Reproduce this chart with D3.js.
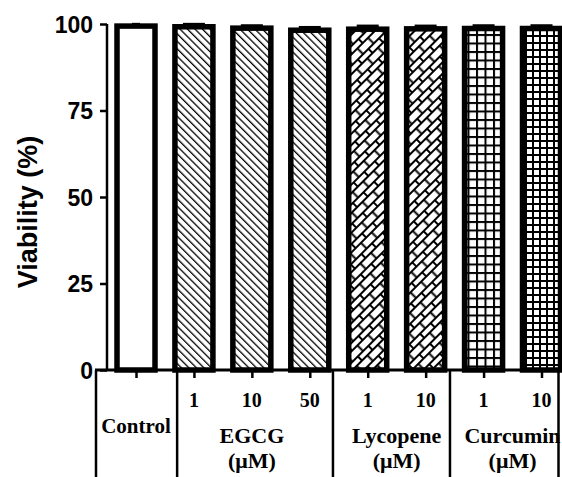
<!DOCTYPE html>
<html><head><meta charset="utf-8">
<script src="https://cdn.jsdelivr.net/npm/d3@7"></script>
<style>html,body{margin:0;padding:0;background:#fff;}svg{display:block;}</style>
</head><body>
<script>
const categories = ["Control","EGCG 1","EGCG 10","EGCG 50","Lycopene 1","Lycopene 10","Curcumin 1","Curcumin 10"];
const doseLabels = ["","1","10","50","1","10","1","10"];
const values = [99.4, 99.2, 98.8, 98.2, 98.5, 98.6, 98.7, 98.7];
const errors = [0.5, 0.7, 0.7, 0.8, 0.9, 0.8, 0.8, 0.8];
const patterns = ["none","diag","diag","diag","brick","brick","grid8","grid6"];
const groupNames = ["Control","EGCG","Lycopene","Curcumin"];
const groupMembers = [[0],[1,2,3],[4,5],[6,7]];
const yTicks = [0,25,50,75,100];

const W = 562, H = 477;
const svg = d3.select("body").append("svg").attr("width", W).attr("height", H);
const defs = svg.append("defs");

// patterns
const pd = defs.append("pattern").attr("id","diag").attr("patternUnits","userSpaceOnUse")
  .attr("width",5.3).attr("height",5.3).attr("patternTransform","rotate(-45)");
pd.append("rect").attr("width",5.3).attr("height",5.3).attr("fill","#fff");
pd.append("line").attr("x1",0).attr("y1",0).attr("x2",0).attr("y2",5.3).attr("stroke","#000").attr("stroke-width",2.6);

const bw = 15, bh = 7;
const pb = defs.append("pattern").attr("id","brick").attr("patternUnits","userSpaceOnUse")
  .attr("width",bw).attr("height",bh*2).attr("patternTransform","rotate(-45)");
pb.append("rect").attr("width",bw).attr("height",bh*2).attr("fill","#fff");
pb.append("line").attr("x1",0).attr("y1",0).attr("x2",bw).attr("y2",0).attr("stroke","#000").attr("stroke-width",4);
pb.append("line").attr("x1",0).attr("y1",bh).attr("x2",bw).attr("y2",bh).attr("stroke","#000").attr("stroke-width",2);
pb.append("line").attr("x1",1).attr("y1",0).attr("x2",1).attr("y2",bh).attr("stroke","#000").attr("stroke-width",2);
pb.append("line").attr("x1",bw/2+1).attr("y1",bh).attr("x2",bw/2+1).attr("y2",bh*2).attr("stroke","#000").attr("stroke-width",2);

function grid(id, s){
  const p = defs.append("pattern").attr("id",id).attr("patternUnits","userSpaceOnUse").attr("width",s).attr("height",s);
  p.append("rect").attr("width",s).attr("height",s).attr("fill","#fff");
  p.append("line").attr("x1",0).attr("y1",1).attr("x2",s).attr("y2",1).attr("stroke","#000").attr("stroke-width",2);
  p.append("line").attr("x1",1).attr("y1",0).attr("x2",1).attr("y2",s).attr("stroke","#000").attr("stroke-width",2);
}
grid("grid8", 8.5); grid("grid6", 7);

const y = d3.scaleLinear().domain([0,100]).range([370,24]);
const x = d3.scalePoint().domain(categories).range([136, 541.5]);
const step = x.step();
const barW = 38;

// Bars
svg.selectAll("rect.bar").data(categories).enter().append("rect")
  .attr("class","bar")
  .attr("x", d => x(d) - barW/2)
  .attr("y", (d,i) => y(values[i]))
  .attr("width", barW)
  .attr("height", (d,i) => y(0) - y(values[i]))
  .attr("fill", (d,i) => patterns[i] === "none" ? "#fff" : `url(#${patterns[i]})`)
  .attr("stroke","#000").attr("stroke-width",5.5);

// Error bars
const eb = svg.selectAll("g.err").data(categories).enter().append("g").attr("class","err");
eb.append("line")
  .attr("x1", d => x(d)).attr("x2", d => x(d))
  .attr("y1", (d,i) => y(values[i])).attr("y2", (d,i) => y(values[i] + errors[i]))
  .attr("stroke","#000").attr("stroke-width",2.5);
eb.append("line")
  .attr("x1", (d,i) => x(d) - (i === 0 ? 4 : 11)).attr("x2", (d,i) => x(d) + (i === 0 ? 4 : 11))
  .attr("y1", (d,i) => y(values[i] + errors[i])).attr("y2", (d,i) => y(values[i] + errors[i]))
  .attr("stroke","#000").attr("stroke-width",3);

// Y axis
const yAxis = d3.axisLeft(y).tickValues(yTicks).tickSize(7).tickPadding(7);
const gy = svg.append("g").attr("transform","translate(107,0)").call(yAxis);
gy.select(".domain").attr("stroke","#000").attr("stroke-width",2.5).attr("d", `M0,${y(100)}V${y(0)}`);
gy.selectAll(".tick line").attr("stroke","#000").attr("stroke-width",2.5);
gy.selectAll(".tick text").attr("font-family","'Liberation Sans', Arial, sans-serif")
  .attr("font-weight","bold").attr("font-size",23).attr("fill","#000").attr("dy","0.36em");

// Y label
svg.append("text").attr("transform",`translate(37,212) rotate(-90)`)
  .attr("text-anchor","middle")
  .attr("font-family","'Liberation Sans', Arial, sans-serif").attr("font-weight","bold").attr("font-size",27)
  .text("Viability (%)");

// X axis base line
svg.append("line").attr("x1",95).attr("x2",W).attr("y1",y(0)).attr("y2",y(0))
  .attr("stroke","#000").attr("stroke-width",3);

// X ticks
const xAxis = d3.axisBottom(x).tickSize(8).tickFormat("");
const gx = svg.append("g").attr("transform",`translate(0,${y(0)})`).call(xAxis);
gx.select(".domain").remove();
gx.selectAll(".tick line").attr("stroke","#000").attr("stroke-width",2.5);

// Table separators
const first = categories[0], last = categories[categories.length-1];
const seps = [x(first) - 40];
const fracs = [0.71, 0.4, 0.42];
groupMembers.slice(0,-1).forEach((m,gi) => {
  seps.push(x(categories[m[m.length-1]]) + fracs[gi]*step);
});
seps.push(x(last) + 17);
svg.selectAll("line.sep").data(seps).enter().append("line").attr("class","sep")
  .attr("x1", d => d).attr("x2", d => d).attr("y1", y(0)).attr("y2", H)
  .attr("stroke","#000").attr("stroke-width",2.5);

const serif = "'Liberation Serif', 'Times New Roman', serif";
// Dose labels
svg.selectAll("text.dose").data(categories).enter().append("text").attr("class","dose")
  .attr("x", d => x(d)).attr("y", 407).attr("text-anchor","middle")
  .attr("font-family",serif).attr("font-weight","bold").attr("font-size",20)
  .text((d,i) => doseLabels[i]);

// Group labels
groupNames.forEach((g,gi) => {
  const m = groupMembers[gi];
  const cx = d3.mean(m, i => x(categories[i]));
  if (gi === 0) {
    svg.append("text").attr("x", cx).attr("y", 433).attr("text-anchor","middle")
      .attr("font-family",serif).attr("font-weight","bold").attr("font-size",21).text(g);
  } else {
    svg.append("text").attr("x", cx).attr("y", 443).attr("text-anchor","middle")
      .attr("font-family",serif).attr("font-weight","bold").attr("font-size",22).text(g);
    svg.append("text").attr("x", cx).attr("y", 468).attr("text-anchor","middle")
      .attr("font-family",serif).attr("font-weight","bold").attr("font-size",22).text("(μM)");
  }
});
</script>
</body></html>
